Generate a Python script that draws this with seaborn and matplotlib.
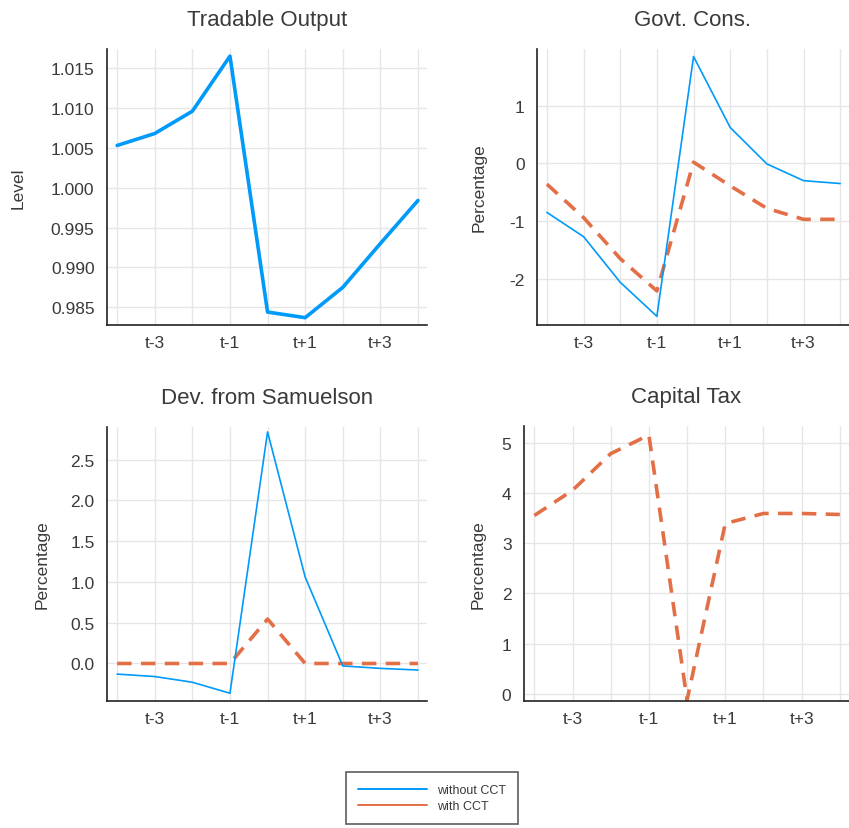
import numpy as np
import pandas as pd
import matplotlib
matplotlib.use("Agg")
import matplotlib.pyplot as plt
from matplotlib.lines import Line2D
from matplotlib.ticker import FormatStrFormatter
import seaborn as sns

# periods t-4 .. t+4
periods = list(range(1, 10))
tick_labels = ["", "t-3", "", "t-1", "", "t+1", "", "t+3", ""]

tradable_output = [1.0053, 1.0068, 1.0096, 1.0165, 0.9844, 0.9837, 0.9875, 0.9930, 0.9984]
govt_without = [-0.85, -1.27, -2.06, -2.65, 1.85, 0.62, -0.01, -0.30, -0.35]
govt_with = [-0.36, -0.94, -1.65, -2.21, 0.02, -0.39, -0.78, -0.97, -0.97]
samuelson_without = [-0.13, -0.16, -0.23, -0.365, 2.84, 1.06, -0.03, -0.06, -0.08]
samuelson_with = [0.0, 0.0, 0.0, 0.0, 0.545, 0.0, 0.0, 0.0, 0.0]
capital_tax_with = [3.55, 4.05, 4.78, 5.15, -0.12, 3.39, 3.59, 3.59, 3.57]

BLUE = "#009AFA"
ORANGE = "#E36F47"
TEXT = "#3a3a3a"

sns.set_style("white")
plt.rcParams["font.family"] = ["Liberation Sans", "DejaVu Sans"]
plt.rcParams["axes.unicode_minus"] = False
plt.rcParams["text.color"] = TEXT
plt.rcParams["axes.labelcolor"] = TEXT
plt.rcParams["xtick.color"] = TEXT
plt.rcParams["ytick.color"] = TEXT

W, H = 849, 829
fig = plt.figure(figsize=(W / 100, H / 100), dpi=100)


def make_ax(left, right, top, bottom):
    return fig.add_axes([left / W, 1 - bottom / H, (right - left) / W, (bottom - top) / H])


def style(ax, title, ylabel, yticks, ylim, label_x, fmt=None):
    ax.set_title(title, fontsize=16, color=TEXT, pad=17)
    ax.set_ylabel(ylabel, fontsize=12.5)
    ax.yaxis.set_label_coords(label_x, 0.5)
    ax.set_xlabel("")
    ax.set_xticks(periods)
    ax.set_xticklabels(tick_labels, fontsize=12.5)
    ax.set_yticks(yticks)
    if fmt:
        ax.yaxis.set_major_formatter(FormatStrFormatter(fmt))
    ax.tick_params(axis="y", labelsize=12.5, direction="in", length=3, width=1,
                   color="#222222", pad=9)
    ax.tick_params(axis="x", direction="in", length=3, width=1, color="#222222", pad=7)
    ax.set_xlim(0.73, 9.24)
    ax.set_ylim(*ylim)
    ax.grid(True, color="#e6e6e6", linewidth=1)
    for s in ["top", "right"]:
        ax.spines[s].set_visible(False)
    for s in ["left", "bottom"]:
        ax.spines[s].set_color("#222222")
        ax.spines[s].set_linewidth(1.2)
    if ax.get_legend():
        ax.get_legend().remove()


dash = (4, 2.6)

# Tradable Output
ax1 = make_ax(107, 427, 50, 326)
sns.lineplot(x=periods, y=tradable_output, ax=ax1, color=BLUE, linewidth=2.6)
style(ax1, "Tradable Output", "Level", np.arange(0.985, 1.0151, 0.005),
      (0.98278, 1.0174), -0.253, "%.3f")

# Govt. Cons.
ax2 = make_ax(537, 849, 50, 326)
sns.lineplot(x=periods, y=govt_with, ax=ax2, color=ORANGE, linewidth=2.6)
ax2.lines[-1].set_dashes(dash)
sns.lineplot(x=periods, y=govt_without, ax=ax2, color=BLUE, linewidth=1.2)
style(ax2, "Govt. Cons.", "Percentage", [-2, -1, 0, 1], (-2.80, 1.98), -0.163)

# Dev. from Samuelson
ax3 = make_ax(107, 427, 428, 702)
sns.lineplot(x=periods, y=samuelson_with, ax=ax3, color=ORANGE, linewidth=2.6)
ax3.lines[-1].set_dashes(dash)
sns.lineplot(x=periods, y=samuelson_without, ax=ax3, color=BLUE, linewidth=1.2)
style(ax3, "Dev. from Samuelson", "Percentage", np.arange(0, 2.51, 0.5),
      (-0.46, 2.90), -0.178, "%.1f")

# Capital Tax
ax4 = make_ax(524, 849, 427, 702)
sns.lineplot(x=periods, y=capital_tax_with, ax=ax4, color=ORANGE, linewidth=2.6)
ax4.lines[-1].set_dashes(dash)
style(ax4, "Capital Tax", "Percentage", [0, 1, 2, 3, 4, 5], (-0.14, 5.33), -0.117)

handles = [Line2D([0], [0], color=BLUE, linewidth=1.4),
           Line2D([0], [0], color=ORANGE, linewidth=1.4)]
leg = fig.legend(handles, ["without CCT", "with CCT"], loc="center",
                 bbox_to_anchor=(432 / W, 1 - 799 / H), fontsize=9,
                 frameon=True, fancybox=False, edgecolor="#333333",
                 handlelength=5.5, borderpad=1.0, labelspacing=0.3)
leg.get_frame().set_linewidth(1.2)

fig.savefig("out.png", dpi=100)
